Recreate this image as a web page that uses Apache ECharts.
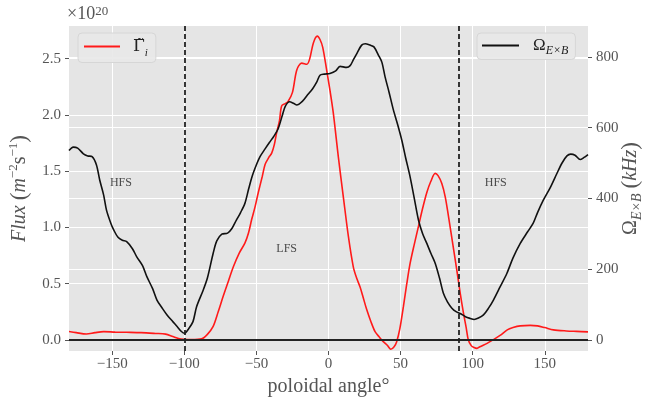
<!DOCTYPE html>
<html>
<head>
<meta charset="utf-8">
<script src="https://cdn.jsdelivr.net/npm/echarts@6/dist/echarts.min.js"></script>
<style>
html, body { margin: 0; padding: 0; background: #fff; }
#chart { width: 646px; height: 403px; }
</style>
</head>
<body>
<div id="chart"></div>
<script>
// tick labels
var xTicks = [-150, -100, -50, 0, 50, 100, 150];
var fluxTicks = [0, 0.5, 1, 1.5, 2, 2.5];
var omegaTicks = [0, 200, 400, 600, 800];

// flux (x 1e20 m^-2 s^-1) vs poloidal angle
var fluxAngle = [-180, -175, -168, -162, -156, -148, -140, -130, -120, -113, -108, -104, -100, -95, -88, -84, -80, -76.5, -73, -69.5, -66, -62, -58, -55.5, -53.3, -51, -48.7, -46, -44, -41.5, -39.4, -37.5, -36, -34, -32.5, -30, -28, -25, -22, -18.6, -15, -13, -10.5, -7.8, -5.9, -4, -1.3, 1, 3.3, 6.8, 10.3, 13.8, 17.2, 19.5, 21.9, 24, 26.5, 29.5, 32.3, 35, 38, 41, 43.2, 45.5, 47.3, 49.5, 52, 54.3, 56.6, 59.5, 62.4, 65.3, 68.2, 71, 74, 76, 78.6, 81, 83.2, 86, 89, 91.3, 93.6, 95.5, 97, 99, 100.6, 103, 105, 110, 114, 119, 124, 128, 133, 140, 145, 150, 156, 165, 172, 180];
var fluxVal = [0.075, 0.065, 0.053, 0.065, 0.074, 0.07, 0.068, 0.065, 0.058, 0.052, 0.03, 0.012, 0.005, 0.003, 0.01, 0.05, 0.12, 0.25, 0.39, 0.52, 0.65, 0.77, 0.86, 0.95, 1.07, 1.18, 1.31, 1.45, 1.56, 1.62, 1.66, 1.74, 1.84, 1.95, 2.08, 2.1, 2.12, 2.2, 2.4, 2.46, 2.45, 2.5, 2.64, 2.7, 2.67, 2.6, 2.4, 2.22, 2.02, 1.63, 1.27, 0.92, 0.65, 0.55, 0.47, 0.38, 0.27, 0.16, 0.074, 0.03, -0.015, -0.05, -0.083, -0.06, -0.015, 0.1, 0.3, 0.5, 0.68, 0.85, 1.01, 1.17, 1.31, 1.41, 1.48, 1.46, 1.39, 1.27, 1.1, 0.87, 0.62, 0.42, 0.24, 0.11, 0.0, -0.05, -0.065, -0.075, -0.06, -0.03, 0.0, 0.04, 0.09, 0.11, 0.125, 0.13, 0.125, 0.11, 0.09, 0.08, 0.076, 0.072];

// E x B rotation frequency (kHz) vs poloidal angle
var omegaAngle = [-180, -177, -174, -170, -167, -164, -161, -158.7, -156, -154, -151, -149, -146, -143, -140, -136, -133, -129, -126, -122, -119, -115, -112, -108, -105, -102, -100, -97, -94, -91.5, -87, -84, -80, -77.5, -74, -70, -67, -64, -61, -58, -55.5, -53, -50, -47.5, -44, -41, -38, -35, -32, -30, -27, -24, -22, -18, -15, -11, -8, -5.9, -3, 1, 5, 8, 12.6, 15, 17.2, 20, 23, 25.5, 28.8, 31.5, 34.6, 37, 39.2, 42, 45, 48, 50.8, 53.5, 56.6, 59.5, 62.4, 65.3, 68.2, 71, 74, 77, 79.7, 82.5, 85.6, 88.5, 91.3, 95, 98.3, 101, 104, 107.5, 111, 114.4, 119, 123.7, 128, 133, 138, 142, 145, 149, 154, 158.5, 162, 165.4, 168, 171, 174.6, 177, 180];
var omegaVal = [535, 545, 542, 526, 520, 518, 495, 452, 410, 367, 330, 311, 290, 282, 278, 258, 235, 210, 179, 145, 113, 88, 71, 52, 38, 24, 19, 32, 52, 94, 140, 175, 245, 280, 299, 302, 315, 338, 360, 386, 425, 462, 495, 518, 540, 558, 575, 596, 635, 660, 673, 668, 664, 675, 690, 710, 730, 748, 751, 753, 760, 773, 770, 775, 791, 812, 833, 837, 833, 828, 805, 785, 744, 700, 650, 608, 565, 515, 461, 400, 339, 300, 273, 245, 217, 175, 132, 108, 90, 80, 75, 66, 61, 58, 62, 71, 90, 113, 150, 188, 232, 273, 305, 330, 360, 395, 432, 471, 500, 520, 525, 522, 510, 515, 524];

var separatrix = [-100, 90];
var regionLabels = [[-144, 1.40, 'HFS'], [-29, 0.81, 'LFS'], [116, 1.40, 'HFS']];

var serif = '"Liberation Serif", "DejaVu Serif", serif';
var txt = '#555555';

function pairs(xs, ys) {
    return xs.map(function (x, i) { return [x, ys[i]]; });
}
function minus(v) {
    return String(v).replace('-', '\u2212');
}

var myChart = echarts.init(document.getElementById('chart'));

var option = {
    animation: false,
    grid: {
        left: 69, right: 58, top: 26, bottom: 52,
        outerBoundsMode: 'none', containLabel: false,
        show: true, backgroundColor: '#e5e5e5', borderWidth: 0
    },
    graphic: [{
        type: 'text', left: 67, top: 5,
        style: {
            text: '\u00d710{s|20}',
            fontSize: 18, fontFamily: serif,
            fill: txt,
            rich: { s: { fontSize: 13, fontFamily: serif, fill: txt, verticalAlign: 'top', lineHeight: 12 } }
        }
    }],
    legend: [{
        data: ['flux'], left: 78, top: 33,
        icon: 'rect', itemWidth: 36, itemHeight: 2,
        padding: [5, 8, 4, 6],
        backgroundColor: 'rgba(232,232,232,0.9)', borderColor: '#d6d6d6', borderWidth: 1, borderRadius: 4,
        formatter: function () { return '{g|\u0393\u0303}{s|i}'; },
        textStyle: {
            rich: {
                g: { fontFamily: '"DejaVu Serif", serif', fontSize: 17, color: '#222', lineHeight: 24, padding: [0, 0, 0, 8] },
                s: { fontFamily: serif, fontSize: 11, fontStyle: 'italic', color: '#222', lineHeight: 12, verticalAlign: 'bottom' }
            }
        }
    }, {
        data: ['omega'], left: 477, top: 33,
        icon: 'rect', itemWidth: 37, itemHeight: 2,
        padding: [4, 7, 3, 5],
        backgroundColor: 'rgba(232,232,232,0.9)', borderColor: '#d6d6d6', borderWidth: 1, borderRadius: 4,
        formatter: function () { return '{g|\u03a9}{s|E\u00d7B}'; },
        textStyle: {
            rich: {
                g: { fontFamily: serif, fontSize: 17, color: '#222', lineHeight: 22, padding: [0, 0, 0, 9] },
                s: { fontFamily: serif, fontSize: 12, fontStyle: 'italic', color: '#222', lineHeight: 12, verticalAlign: 'bottom' }
            }
        }
    }],
    xAxis: {
        type: 'value', min: -180, max: 180,
        name: 'poloidal angle\u00b0', nameLocation: 'middle', nameGap: 26, nameMoveOverlap: false,
        nameTextStyle: { fontFamily: serif, fontSize: 20, color: txt },
        axisLine: { show: false, onZero: false },
        axisTick: { show: true, length: 4, customValues: xTicks, lineStyle: { color: txt } },
        axisLabel: { customValues: xTicks, margin: 6, fontFamily: serif, fontSize: 15, color: txt, formatter: minus },
        splitLine: { show: true, lineStyle: { color: '#ffffff', width: 1 } }
    },
    yAxis: [{
        type: 'value', min: -0.098, max: 2.79, position: 'left',
        name: '{i|Flux} {p|(}{i|m}{u|\u22122}s{u|\u22121}{p|)}', nameLocation: 'middle', nameRotate: 90, nameGap: 36,
        nameMoveOverlap: false,
        nameTextStyle: {
            fontFamily: serif, fontSize: 20, color: txt,
            rich: {
                i: { fontFamily: serif, fontSize: 20, fontStyle: 'italic', color: txt, lineHeight: 26 },
                p: { fontFamily: serif, fontSize: 23, color: txt, lineHeight: 26 },
                u: { fontFamily: serif, fontSize: 13, color: txt, lineHeight: 13, verticalAlign: 'top' }
            }
        },
        axisLine: { show: false, onZero: false },
        axisTick: { show: true, length: 4, customValues: fluxTicks, lineStyle: { color: txt } },
        axisLabel: { customValues: fluxTicks, margin: 8, fontFamily: serif, fontSize: 15, color: txt,
            formatter: function (v) { return v.toFixed(1); } },
        splitLine: { show: true, lineStyle: { color: '#ffffff', width: 1 } }
    }, {
        type: 'value', min: -31, max: 887, position: 'right',
        name: '\u03a9{s|E\u00d7B} {p|(}{i|kHz}{p|)}', nameLocation: 'middle', nameRotate: 90, nameGap: 30,
        nameMoveOverlap: false,
        nameTextStyle: {
            fontFamily: serif, fontSize: 20, color: txt,
            rich: {
                i: { fontFamily: serif, fontSize: 20, fontStyle: 'italic', color: txt, lineHeight: 26 },
                p: { fontFamily: serif, fontSize: 23, color: txt, lineHeight: 26 },
                s: { fontFamily: serif, fontSize: 14, fontStyle: 'italic', color: txt, lineHeight: 14, verticalAlign: 'bottom' }
            }
        },
        axisLine: { show: false, onZero: false },
        axisTick: { show: true, length: 4, customValues: omegaTicks, lineStyle: { color: txt } },
        axisLabel: { customValues: omegaTicks, margin: 8, fontFamily: serif, fontSize: 15, color: txt },
        splitLine: { show: true, lineStyle: { color: '#ffffff', width: 1 } }
    }],
    series: [{
        name: 'flux', type: 'line', yAxisIndex: 0,
        data: pairs(fluxAngle, fluxVal),
        smooth: 0.3, symbol: 'none',
        lineStyle: { color: '#ff1a1a', width: 1.6 },
        itemStyle: { color: '#ff1a1a' },
        z: 3,
        markLine: {
            silent: true, symbol: 'none', label: { show: false },
            data: [{ yAxis: 0, lineStyle: { color: '#222', width: 2, type: 'solid' } }]
                .concat(separatrix.map(function (a) {
                    return { xAxis: a, lineStyle: { color: '#222', width: 1.8, type: [5, 3] } };
                }))
        }
    }, {
        name: 'omega', type: 'line', yAxisIndex: 1,
        data: pairs(omegaAngle, omegaVal),
        smooth: 0.3, symbol: 'none',
        lineStyle: { color: '#111111', width: 1.6 },
        itemStyle: { color: '#111111' },
        z: 4
    }, {
        name: 'regions', type: 'scatter', yAxisIndex: 0,
        data: regionLabels,
        symbolSize: 1,
        itemStyle: { color: 'rgba(0,0,0,0)' },
        label: {
            show: true, position: 'inside',
            fontFamily: serif, fontSize: 12, color: '#222',
            formatter: function (p) { return p.data[2]; }
        },
        silent: true
    }]
};

myChart.setOption(option);
</script>
</body>
</html>
